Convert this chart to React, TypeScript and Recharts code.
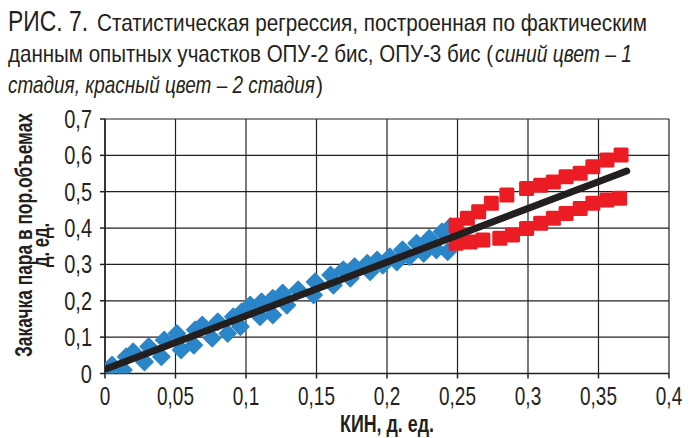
import { ScatterChart, Scatter, XAxis, YAxis, CartesianGrid, Label } from "recharts";

// stage 1 (blue diamonds)
const blueX = [
  0.001, 0.005, 0.013, 0.015, 0.02, 0.028, 0.031, 0.04, 0.042, 0.051, 0.054, 0.063, 0.064, 0.069,
  0.076, 0.08, 0.087, 0.091, 0.096, 0.097, 0.103, 0.11, 0.111, 0.119, 0.119, 0.126, 0.129, 0.137,
  0.148, 0.149, 0.16, 0.162, 0.169, 0.174, 0.177, 0.186, 0.188, 0.193, 0.197, 0.202, 0.207, 0.211,
  0.216, 0.221, 0.226, 0.23, 0.235, 0.239, 0.243, 0.245,
];
const blueY = [
  0.005, 0.023, 0.01, 0.046, 0.06, 0.032, 0.074, 0.046, 0.092, 0.11, 0.065, 0.078, 0.12, 0.133,
  0.097, 0.142, 0.11, 0.156, 0.129, 0.17, 0.188, 0.156, 0.197, 0.161, 0.207, 0.221, 0.188, 0.23,
  0.216, 0.252, 0.271, 0.243, 0.285, 0.262, 0.294, 0.303, 0.28, 0.312, 0.298, 0.321, 0.307, 0.34,
  0.321, 0.358, 0.33, 0.372, 0.34, 0.39, 0.335, 0.404,
];

// stage 2 (red squares)
const redX = [
  0.249, 0.25, 0.257, 0.265, 0.274, 0.285, 0.299, 0.309, 0.318, 0.327, 0.337, 0.346, 0.356, 0.366,
  0.249, 0.259, 0.268, 0.28, 0.289, 0.299, 0.309, 0.318, 0.327, 0.337, 0.346, 0.356, 0.365,
];
const redY = [
  0.408, 0.383, 0.427, 0.445, 0.468, 0.491, 0.509, 0.518, 0.527, 0.541, 0.551, 0.569, 0.587, 0.601,
  0.358, 0.362, 0.367, 0.372, 0.381, 0.399, 0.413, 0.427, 0.44, 0.454, 0.468, 0.477, 0.482,
];

// regression line end points
const fitX = [0.001, 0.37];
const fitY = [0.013, 0.557];

const xTicks = [0, 0.05, 0.1, 0.15, 0.2, 0.25, 0.3, 0.35, 0.4];
const yTicks = [0, 0.1, 0.2, 0.3, 0.4, 0.5, 0.6, 0.7];

const blueData = blueX.map((x, i) => ({ x, y: blueY[i] }));
const redData = redX.map((x, i) => ({ x, y: redY[i] }));
const fitData = fitX.map((x, i) => ({ x, y: fitY[i] }));

const INK = "#231f20";
const FONT = "'Liberation Sans', Arial, sans-serif";
const fmt = (v: number) => String(v).replace(".", ",");

// condensed text: squeezed with scaleX, then fitted to the measured width
const Seg = ({ x, y, w, sx = 0.85, rotate = 0, children, ...rest }: any) => (
  <text
    transform={`translate(${x},${y}) rotate(${rotate}) scale(${sx},1)`}
    textLength={w / sx}
    lengthAdjust="spacingAndGlyphs"
    {...rest}
  >
    {children}
  </text>
);

const Diamond = (props: any) => {
  const { cx, cy } = props;
  const r = 8.5;
  return (
    <path
      d={`M${cx},${cy - r}L${cx + r},${cy}L${cx},${cy + r}L${cx - r},${cy}Z`}
      fill="#2a86c8"
      stroke="#2a86c8"
      strokeWidth={1.5}
      strokeLinejoin="round"
    />
  );
};

const Square = (props: any) => {
  const { cx, cy } = props;
  const s = 15;
  return <rect x={cx - s / 2} y={cy - s / 2} width={s} height={s} rx={1.5} fill="#ec1c24" />;
};

const Nothing = () => <g />;

const XTick = ({ x, y, payload }: any) => (
  <g transform={`translate(${x},${y})`}>
    <text transform="scale(0.76,1)" textAnchor="middle" dy="0.72em" fontSize={25} fill={INK} fontFamily={FONT}>
      {fmt(payload.value)}
    </text>
  </g>
);

const YTick = ({ x, y, payload }: any) => (
  <g transform={`translate(${x},${y})`}>
    <text transform="scale(0.8,1)" textAnchor="end" dy="0.36em" fontSize={25} fill={INK} fontFamily={FONT}>
      {fmt(payload.value)}
    </text>
  </g>
);

const XTitle = ({ viewBox }: any) => {
  const cx = viewBox.x + viewBox.width / 2;
  return (
    <Seg x={cx - 47} y={viewBox.y + 58} w={94} sx={0.74}
      fontSize={23} fontWeight="bold" fill={INK} fontFamily={FONT}>
      КИН, д. ед.
    </Seg>
  );
};

const YTitle = () => (
  <g fontSize={24} fontWeight="bold" fill={INK} fontFamily={FONT}>
    <Seg x={32} y={357} rotate={-90} w={244} sx={0.74}>
      Закачка пара в пор.объемах
    </Seg>
    <Seg x={49} y={267} rotate={-90} w={44} sx={0.74}>
      д. ед.
    </Seg>
  </g>
);

function Title() {
  return (
    <svg width={692} height={100} style={{ position: "absolute", left: 0, top: 0 }}>
      <g fill={INK} fontFamily={FONT}>
        <Seg x={8} y={31} w={80} sx={0.74} fontSize={30}>РИС. 7.</Seg>
        <Seg x={97} y={31} w={550} fontSize={23}>
          Статистическая регрессия, построенная по фактическим
        </Seg>
        <Seg x={8} y={62} w={485} fontSize={23}>
          данным опытных участков ОПУ-2 бис, ОПУ-3 бис (
        </Seg>
        <Seg x={495} y={62} w={137} fontSize={23} fontStyle="italic">
          синий цвет – 1
        </Seg>
        <Seg x={8} y={93} w={307} fontSize={23} fontStyle="italic">
          стадия, красный цвет – 2 стадия
        </Seg>
        <Seg x={316} y={93} w={7} fontSize={23}>)</Seg>
      </g>
    </svg>
  );
}

export default function App() {
  return (
    <div style={{ position: "fixed", left: 0, top: 0, width: 692, height: 438, background: "#fff" }}>
      <Title />
      <div style={{ position: "absolute", left: 0, top: 0 }}>
        <ScatterChart width={692} height={438} margin={{ top: 119, right: 23, bottom: 24.5, left: 0 }}>
          <CartesianGrid stroke={INK} strokeWidth={1.2} />
          <XAxis
            type="number"
            dataKey="x"
            domain={[0, 0.4]}
            ticks={xTicks}
            tick={<XTick />}
            tickSize={5}
            tickMargin={8}
            height={40}
            stroke={INK}
            strokeWidth={1.5}
            allowDataOverflow
          >
            <Label content={<XTitle />} />
          </XAxis>
          <YAxis
            type="number"
            dataKey="y"
            domain={[0, 0.7]}
            ticks={yTicks}
            tick={<YTick />}
            tickSize={5}
            tickMargin={8}
            width={105}
            stroke={INK}
            strokeWidth={1.5}
            allowDataOverflow
          >
            <Label content={<YTitle />} />
          </YAxis>
          <Scatter data={blueData} shape={<Diamond />} isAnimationActive={false} />
          <Scatter data={redData} shape={<Square />} isAnimationActive={false} />
          <Scatter
            data={fitData}
            shape={<Nothing />}
            line={{ stroke: INK, strokeWidth: 7, strokeLinecap: "round" }}
            isAnimationActive={false}
          />
        </ScatterChart>
      </div>
    </div>
  );
}
